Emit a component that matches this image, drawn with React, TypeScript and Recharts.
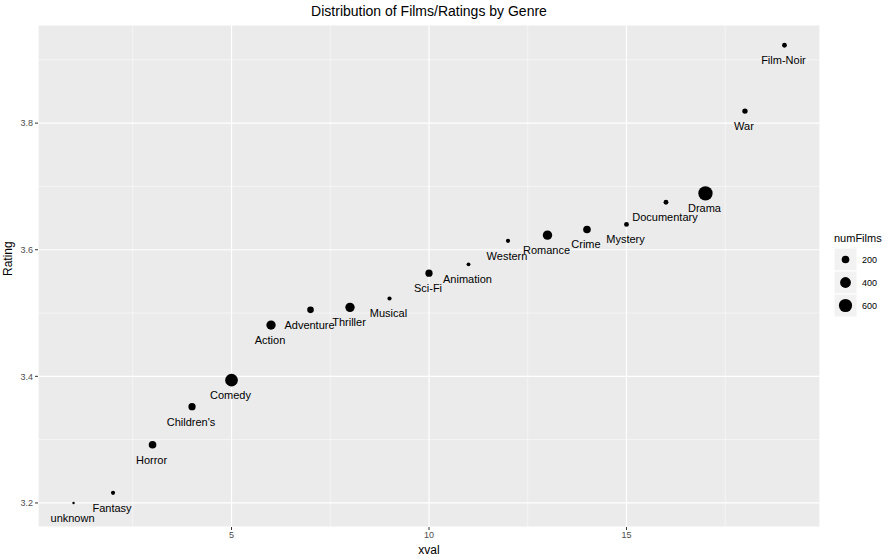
import React from 'react';
import { ScatterChart, Scatter, XAxis, YAxis, CartesianGrid, ReferenceLine, ZAxis } from 'recharts';

const genres = ['unknown', 'Fantasy', 'Horror', "Children's", 'Comedy', 'Action', 'Adventure', 'Thriller', 'Musical', 'Sci-Fi',
  'Animation', 'Western', 'Romance', 'Crime', 'Mystery', 'Documentary', 'Drama', 'War', 'Film-Noir'];
const ratings = [3.2, 3.216, 3.292, 3.352, 3.394, 3.481, 3.505, 3.509, 3.523, 3.563,
  3.577, 3.614, 3.623, 3.632, 3.64, 3.675, 3.689, 3.819, 3.923];
const numFilms = [5, 60, 200, 180, 550, 300, 150, 300, 60, 180,
  50, 60, 300, 200, 80, 80, 700, 100, 80];
const xMinor = [2.5, 7.5, 12.5, 17.5];
const yMinor = [3.3, 3.5, 3.7, 3.9];
const legendSizes = [200, 400, 600];

const data = genres.map((g, i) => ({ genre: g, xval: i + 1, rating: ratings[i], n: numFilms[i] }));
const rad = (n: number) => Math.sqrt(n) * 0.27;
const font = 'Liberation Sans, Arial, sans-serif';

function Dot(props: any) {
  const { cx, cy, payload } = props;
  return (
    <g>
      <circle cx={cx} cy={cy} r={Math.max(rad(payload.n), 1.2)} fill="#000" />
      <text x={cx - 1} y={cy + 15} textAnchor="middle" dominantBaseline="central" fontSize={11} fontFamily={font} fill="#000">
        {payload.genre}
      </text>
    </g>
  );
}

export default function App() {
  return (
    <div style={{ position: 'absolute', left: 0, top: 0, width: 896, height: 560, background: '#fff', fontFamily: font }}>
      <div style={{ position: 'absolute', left: 38, width: 782, top: 3, textAlign: 'center', fontSize: 14 }}>
        Distribution of Films/Ratings by Genre
      </div>
      <ScatterChart width={896} height={560} margin={{ top: 25, right: 76, bottom: 0, left: 0 }}>
        <CartesianGrid fill="#EBEBEB" stroke="#fff" strokeWidth={1.2} />
        {xMinor.map(v => <ReferenceLine key={'x' + v} x={v} stroke="#fff" strokeWidth={0.5} />)}
        {yMinor.map(v => <ReferenceLine key={'y' + v} y={v} stroke="#fff" strokeWidth={0.5} />)}
        <XAxis type="number" dataKey="xval" domain={[0.1, 19.9]} ticks={[5, 10, 15]} axisLine={false}
          tickSize={3} tickLine={{ stroke: '#333' }} tick={{ fontSize: 9, fill: '#4D4D4D', fontFamily: font }}
          label={{ value: 'xval', position: 'insideBottom', offset: 6, fontSize: 12, fill: '#000', fontFamily: font }} height={33} />
        <YAxis type="number" dataKey="rating" domain={[3.162, 3.955]} ticks={[3.2, 3.4, 3.6, 3.8]} axisLine={false}
          tickSize={3} tickLine={{ stroke: '#333' }} tick={{ fontSize: 9, fill: '#4D4D4D', fontFamily: font }}
          tickFormatter={(v: number) => v.toFixed(1)} width={38}
          label={{ value: 'Rating', angle: -90, position: 'insideLeft', offset: 8, fontSize: 12, fill: '#000', fontFamily: font }} />
        <ZAxis dataKey="n" range={[20, 20]} />
        <Scatter data={data} shape={<Dot />} isAnimationActive={false} />
      </ScatterChart>
      <div style={{ position: 'absolute', left: 834, top: 232, fontSize: 11 }}>numFilms</div>
      <svg style={{ position: 'absolute', left: 834, top: 248 }} width={60} height={72}>
        {legendSizes.map((s, i) => (
          <g key={s}>
            <rect x={0} y={i * 23} width={23} height={23} fill="#F2F2F2" stroke="#fff" />
            <circle cx={11.5} cy={i * 23 + 11.5} r={rad(s)} fill="#000" />
            <text x={28} y={i * 23 + 12} dominantBaseline="central" fontSize={9} fill="#000" fontFamily={font}>{s}</text>
          </g>
        ))}
      </svg>
    </div>
  );
}
